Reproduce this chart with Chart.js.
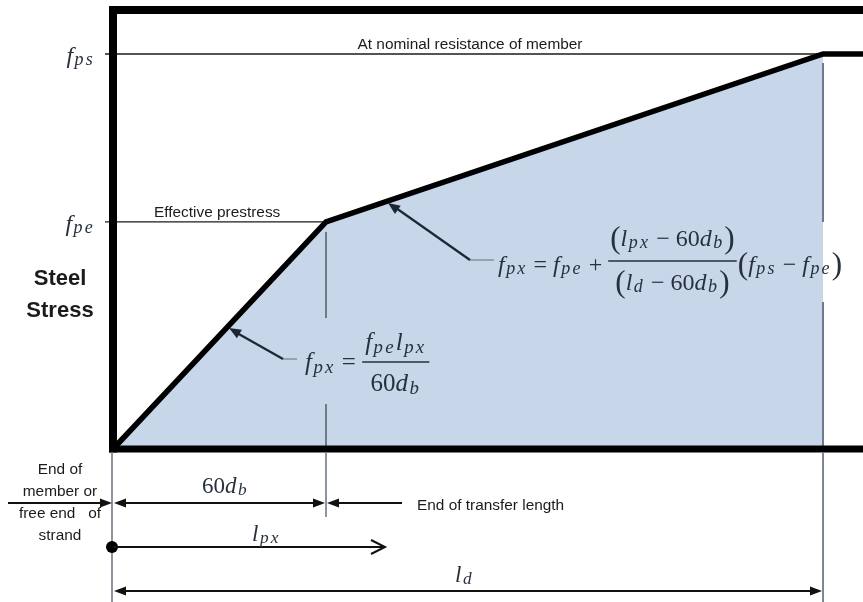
<!DOCTYPE html>
<html>
<head>
<meta charset="utf-8">
<script src="https://cdn.jsdelivr.net/npm/chart.js@4/dist/chart.umd.min.js"></script>
<style>
  html, body { margin: 0; padding: 0; background: #ffffff; overflow: hidden; }
  #wrap { position: relative; width: 863px; height: 602px; }
</style>
</head>
<body>
<div id="wrap"><canvas id="c"></canvas></div>
<script>
// ---- data ----
const pointNames   = ['End of member', '60d_b', 'l_d', 'Right edge'];
const lengthValues = [0, 30, 100, 105.63];   // position along strand, % of l_d
const stressValues = [0, 57.5, 100, 100];    // steel stress, % of f_ps
const filledCount  = 3;                      // shaded region ends at l_d
const yTickValues  = [57.5, 100];
const yTickMain    = ['f', 'f'];
const yTickSubs    = ['pe', 'ps'];
const xAxisMax     = 105.63;
const yAxisMax     = 111.14;
const topNote      = 'At nominal resistance of member';
const fpeNote      = 'Effective prestress';
const yTitleLines  = ['Steel', 'Stress'];
const endNoteLines = ['End of', 'member or', 'free end   of', 'strand'];
const transferNote = 'End of transfer length';

const FILL = '#c8d6e9';
const INK = '#1b1b1b';
const MATH = '#27303d';
const GUIDE = '#6f7b8b';

const curvePts = lengthValues.map((x, i) => ({ x, y: stressValues[i] }));
const fillPts = curvePts.slice(0, filledCount);

// token styles: 'n' upright, 'i' italic, 's' italic subscript, 'P' big paren
function drawRun(ctx, toks, x, y, size, draw) {
  let cx = x;
  toks.forEach(([t, st], k) => {
    let fs = size, dy = 0, it = false, track = 0;
    if (st === 'i') it = true;
    if (st === 's') { fs = size * 0.75; dy = size * 0.1; it = true; track = 2.2; }
    if (st === 'P') { fs = size * 1.3; dy = size * 0.09; }
    ctx.font = (it ? 'italic ' : '') + fs.toFixed(1) + 'px "Liberation Serif"';
    for (const ch of t) {
      const w = ctx.measureText(ch).width;
      if (draw) ctx.fillText(ch, cx, y + dy);
      cx += w + track;
    }
    const nxt = toks[k + 1];
    if (st === 'i' && nxt && nxt[1] === 's') cx += 1.5;
  });
  return cx - x;
}
function runW(ctx, toks, size) { return drawRun(ctx, toks, 0, 0, size, false); }

function line(ctx, x1, y1, x2, y2, w, c) {
  ctx.beginPath(); ctx.moveTo(x1, y1); ctx.lineTo(x2, y2);
  ctx.lineWidth = w; ctx.strokeStyle = c; ctx.stroke();
}
function head(ctx, x, y, ang, len, half, c, open) {
  const ca = Math.cos(ang), sa = Math.sin(ang);
  const bx = x - ca * len, by = y - sa * len;
  const p1 = [bx - sa * half, by + ca * half], p2 = [bx + sa * half, by - ca * half];
  ctx.beginPath();
  if (open) {
    ctx.moveTo(p1[0], p1[1]); ctx.lineTo(x, y); ctx.lineTo(p2[0], p2[1]);
    ctx.lineWidth = 2; ctx.strokeStyle = c; ctx.stroke();
  } else {
    ctx.moveTo(x, y); ctx.lineTo(p1[0], p1[1]); ctx.lineTo(p2[0], p2[1]); ctx.closePath();
    ctx.fillStyle = c; ctx.fill();
  }
}

const diagram = {
  id: 'diagram',
  afterDatasetDraw(chart, args) {
    if (args.index !== 0) return;
    const ctx = chart.ctx, xs = chart.scales.x, ys = chart.scales.y;
    const a = chart.chartArea;
    ctx.save();
    const xStub = a.left - 8;
    line(ctx, xStub, ys.getPixelForValue(yTickValues[0]), xs.getPixelForValue(lengthValues[1]), ys.getPixelForValue(yTickValues[0]), 1.4, INK);
    line(ctx, xStub, ys.getPixelForValue(yTickValues[1]), xs.getPixelForValue(lengthValues[2]), ys.getPixelForValue(yTickValues[1]), 1.4, INK);
    const x60 = xs.getPixelForValue(lengthValues[1]);
    const xld = xs.getPixelForValue(lengthValues[2]);
    line(ctx, x60, ys.getPixelForValue(stressValues[1]) + 10, x60, 318, 2, GUIDE);
    line(ctx, x60, 404, x60, a.bottom, 2, GUIDE);
    line(ctx, xld, ys.getPixelForValue(stressValues[2]) + 9, xld, 222, 2, GUIDE);
    line(ctx, xld, 302, xld, a.bottom, 2, GUIDE);
    ctx.restore();
  },
  afterDatasetsDraw(chart) {
    const ctx = chart.ctx, xs = chart.scales.x, ys = chart.scales.y;
    const a = chart.chartArea;
    const x0 = xs.getPixelForValue(lengthValues[0]);
    const x60 = xs.getPixelForValue(lengthValues[1]);
    const xld = xs.getPixelForValue(lengthValues[2]);
    ctx.save();
    ctx.lineCap = 'butt';
    line(ctx, a.left, a.top - 4, a.left, a.bottom + 3.5, 8, '#000');
    line(ctx, a.left - 4, a.top, a.right, a.top, 8, '#000');
    line(ctx, a.left - 4, a.bottom, a.right, a.bottom, 7, '#000');

    line(ctx, x0 - 1, a.bottom + 3, x0 - 1, 602, 1.6, GUIDE);
    line(ctx, x60, a.bottom + 3, x60, 517, 1.6, GUIDE);
    line(ctx, xld, a.bottom + 3, xld, 602, 1.8, GUIDE);

    // y tick labels
    ctx.fillStyle = MATH; ctx.textBaseline = 'alphabetic'; ctx.textAlign = 'left';
    yTickValues.forEach((v, i) => {
      const toks = [[yTickMain[i], 'i'], [yTickSubs[i], 's']];
      const w = runW(ctx, toks, 24);
      drawRun(ctx, toks, 95 - w, ys.getPixelForValue(v) + 9, 24, true);
    });

    ctx.fillStyle = INK;
    ctx.font = 'bold 22px "Liberation Sans"'; ctx.textAlign = 'center';
    ctx.fillText(yTitleLines[0], 60, 285);
    ctx.fillText(yTitleLines[1], 60, 317);
    ctx.font = '15.4px "Liberation Sans"';
    ctx.fillText(topNote, 470, 49);
    ctx.textAlign = 'left';
    ctx.fillText(fpeNote, 154, 217);
    ctx.fillText(transferNote, 417, 510);
    ctx.textAlign = 'center';
    endNoteLines.forEach((t, i) => ctx.fillText(t, 60, 474 + i * 22));

    // formula 1
    ctx.textAlign = 'left'; ctx.fillStyle = MATH;
    const S1 = 24;
    const lhs1 = [['f', 'i'], ['px', 's'], [' = ', 'n'], ['f', 'i'], ['pe', 's'], [' + ', 'n']];
    const num1 = [['(', 'P'], ['l', 'i'], ['px', 's'], [' \u2212 60', 'n'], ['d', 'i'], ['b', 's'], [')', 'P']];
    const den1 = [['(', 'P'], ['l', 'i'], ['d', 's'], [' \u2212 60', 'n'], ['d', 'i'], ['b', 's'], [')', 'P']];
    const tail1 = [['(', 'P'], ['f', 'i'], ['ps', 's'], [' \u2212 ', 'n'], ['f', 'i'], ['pe', 's'], [')', 'P']];
    let fx = 498;
    fx += drawRun(ctx, lhs1, fx, 272, S1, true);
    const nw = runW(ctx, num1, S1), dw = runW(ctx, den1, S1);
    const fw = Math.max(nw, dw) + 4;
    drawRun(ctx, num1, fx + (fw - nw) / 2, 246, S1, true);
    drawRun(ctx, den1, fx + (fw - dw) / 2, 290, S1, true);
    line(ctx, fx, 261, fx + fw, 261, 1.4, MATH);
    drawRun(ctx, tail1, fx + fw + 1, 272, S1, true);

    // formula 2
    const S2 = 25;
    const lhs2 = [['f', 'i'], ['px', 's'], [' = ', 'n']];
    const num2 = [['f', 'i'], ['pe', 's'], ['l', 'i'], ['px', 's']];
    const den2 = [['60', 'n'], ['d', 'i'], ['b', 's']];
    let gx = 305;
    gx += drawRun(ctx, lhs2, gx, 370, S2, true);
    const nw2 = runW(ctx, num2, S2), dw2 = runW(ctx, den2, S2);
    const fw2 = Math.max(nw2, dw2) + 6;
    drawRun(ctx, num2, gx + (fw2 - nw2) / 2, 350, S2, true);
    drawRun(ctx, den2, gx + (fw2 - dw2) / 2, 391, S2, true);
    line(ctx, gx, 362, gx + fw2, 362, 1.4, MATH);

    // leader arrows
    line(ctx, 494, 260, 470, 260, 1.6, '#8a94a2');
    line(ctx, 470, 260, 396, 208, 2.2, '#1c2636');
    head(ctx, 388, 203, Math.atan2(203 - 260, 388 - 470), 12, 5, '#1c2636');
    line(ctx, 297, 359, 283, 359, 1.6, '#8a94a2');
    line(ctx, 283, 359, 237, 333, 2.2, '#1c2636');
    head(ctx, 229, 328, Math.atan2(328 - 359, 229 - 283), 12, 5, '#1c2636');

    // dimension row 1 (60 d_b)
    const yA = 503, AK = '#111';
    line(ctx, 8, yA, x0 - 10, yA, 2, AK);
    head(ctx, x0 - 1, yA, 0, 12, 4.5, AK);
    line(ctx, x0 + 8, yA, x60 - 8, yA, 2, AK);
    head(ctx, x0 + 1, yA, Math.PI, 12, 4.5, AK);
    head(ctx, x60 - 1, yA, 0, 12, 4.5, AK);
    line(ctx, x60 + 8, yA, 402, yA, 2, AK);
    head(ctx, x60 + 1, yA, Math.PI, 12, 4.5, AK);
    ctx.fillStyle = MATH;
    const lab60 = [['60', 'n'], ['d', 'i'], ['b', 's']];
    drawRun(ctx, lab60, 202, 493, 23, true);

    // dimension row 2 (l_px)
    const yB = 547;
    ctx.beginPath(); ctx.arc(x0 - 1, yB, 6, 0, Math.PI * 2); ctx.fillStyle = '#000'; ctx.fill();
    line(ctx, x0, yB, 384, yB, 2, AK);
    head(ctx, 385, yB, 0, 14, 7, AK, true);
    ctx.fillStyle = MATH;
    drawRun(ctx, [['l', 'i'], ['px', 's']], 252, 541, 23, true);

    // dimension row 3 (l_d)
    const yC = 591;
    line(ctx, x0 + 8, yC, xld - 8, yC, 2, AK);
    head(ctx, x0 + 1, yC, Math.PI, 12, 4.5, AK);
    head(ctx, xld - 1, yC, 0, 12, 4.5, AK);
    ctx.fillStyle = MATH;
    drawRun(ctx, [['l', 'i'], ['d', 's']], 455, 582, 23, true);

    ctx.restore();
  }
};

new Chart(document.getElementById('c'), {
  type: 'line',
  data: {
    datasets: [
      {
        label: 'shaded',
        data: fillPts,
        fill: 'origin',
        backgroundColor: FILL,
        borderWidth: 0,
        pointRadius: 0,
        order: 2
      },
      {
        label: pointNames.join(' / '),
        data: curvePts,
        fill: false,
        borderColor: '#000',
        borderWidth: 5.5,
        borderJoinStyle: 'miter',
        pointRadius: 0,
        clip: 6,
        order: 1
      }
    ]
  },
  options: {
    responsive: true,
    maintainAspectRatio: false,
    devicePixelRatio: 1,
    animation: false,
    events: [],
    layout: { padding: { left: 113, top: 10, right: 0, bottom: 153 } },
    plugins: { legend: { display: false }, tooltip: { enabled: false } },
    scales: {
      x: { type: 'linear', min: 0, max: xAxisMax, display: false },
      y: { type: 'linear', min: 0, max: yAxisMax, display: false }
    }
  },
  plugins: [diagram]
});
</script>
</body>
</html>
